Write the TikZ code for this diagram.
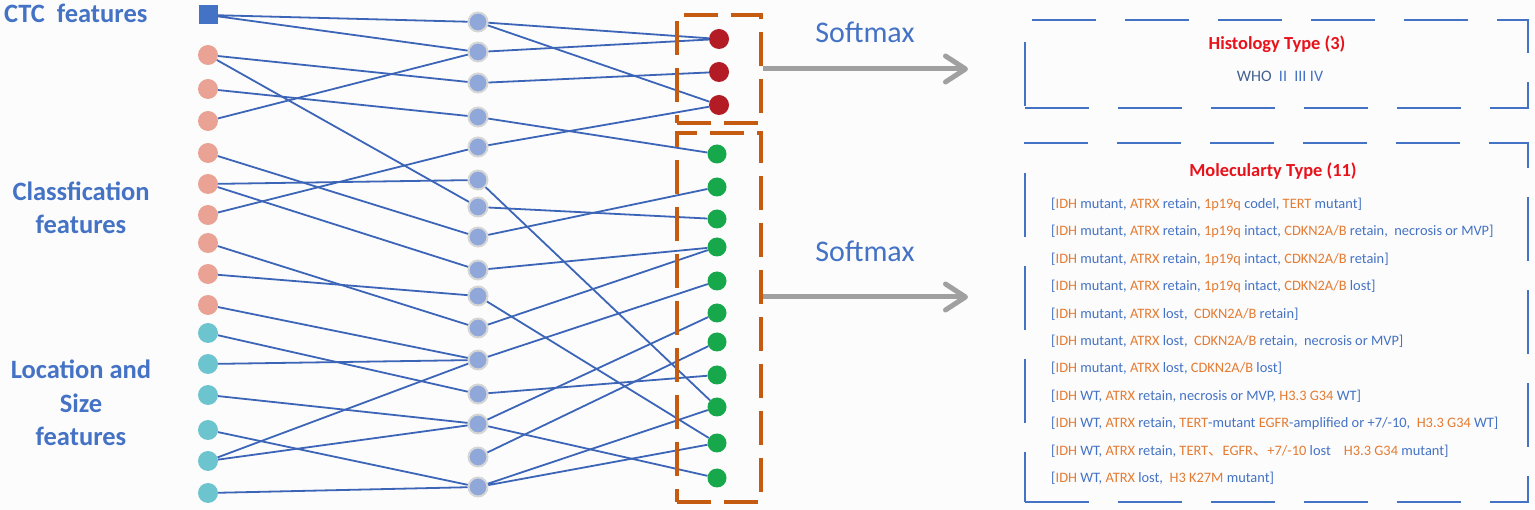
\documentclass[tikz,border=0pt]{standalone}
\usepackage{fontspec}
\setmainfont{Carlito}
\newfontfamily\cjk{Noto Sans CJK SC}
\usepackage{tikz}
\usetikzlibrary{arrows.meta,positioning}

\definecolor{bg}{HTML}{FCFCFC}
\definecolor{lineblue}{HTML}{3C65B8}
\definecolor{txtblue}{HTML}{4472C4}
\definecolor{whoblue}{HTML}{44618F}
\definecolor{salmon}{HTML}{E9A293}
\definecolor{cyanpt}{HTML}{6CC4CF}
\definecolor{hidblue}{HTML}{8FA8D9}
\definecolor{ringgray}{HTML}{D6D6D6}
\definecolor{outred}{HTML}{B31B25}
\definecolor{outgreen}{HTML}{18A84C}
\definecolor{boxorange}{HTML}{C55A11}
\definecolor{txtorange}{HTML}{E47B32}
\definecolor{titlered}{HTML}{E8121B}
\definecolor{arrowgray}{HTML}{A0A0A0}

\newcommand\orng[1]{\textcolor{txtorange}{#1}}

\begin{document}
\begin{tikzpicture}[
  x=1pt, y=-1pt,
  dot/.style={circle, inner sep=0pt, minimum size=20pt},
  ctcnode/.style={rectangle, inner sep=0pt, minimum size=19pt, fill=txtblue},
  clsnode/.style={dot, fill=salmon},
  locnode/.style={dot, fill=cyanpt},
  hidnode/.style={dot, minimum size=19pt, fill=hidblue, draw=ringgray, line width=2pt},
  histnode/.style={dot, fill=outred},
  molnode/.style={dot, minimum size=19pt, fill=outgreen},
  link/.style={draw=lineblue, line width=1.8pt},
  obox/.style={rectangle, draw=boxorange, line width=3.5pt, dash pattern=on 34pt off 13pt,
               minimum width=84pt, inner sep=0pt},
  tbox/.style={rectangle, draw=txtblue, line width=2.5pt, dash pattern=on 64pt off 29pt,
               minimum width=503pt, inner sep=0pt},
  softarrow/.style={draw=arrowgray, line width=5pt,
                    -{Straight Barb[length=20pt, width=26pt, round]}},
  flabel/.style={text=txtblue, align=center, font=\bfseries\fontsize{26.5}{33.5}\selectfont},
  smx/.style={text=txtblue, font=\fontsize{30}{36}\selectfont},
  ttl/.style={text=titlered, font=\bfseries\fontsize{18.4}{22}\selectfont},
  itm/.style={text=txtblue, inner sep=0pt, font=\fontsize{14.4}{17}\selectfont}
]

\useasboundingbox (0,0) rectangle (1535,510);
\fill[bg] (0,0) rectangle (1535,510);

% feature labels
\node[flabel, anchor=base west, inner sep=0pt] (ctcl) at (4,23) {CTC\ \ features};
\node[flabel] (clsl) at (81,208) {Classfication\\features};
\node[flabel] (locl) at (81,403) {Location and\\Size\\features};

% input, hidden and output layers
\node[ctcnode] (s) at (208,15) {};
\foreach \y [count=\i] in {55,89,121,153,184,215,243,274,305}
  \node[clsnode] (p\i) at (208,\y) {};
\foreach \y [count=\i] in {333,364,395,430,461,493}
  \node[locnode] (c\i) at (208,\y) {};
\foreach \y [count=\i] in {22,52,83,117,147,180,207,237,270,296,328,360,394,424,457,487}
  \node[hidnode] (m\i) at (478,\y) {};
\foreach \y [count=\i] in {39,72,105}
  \node[histnode] (r\i) at (719,\y) {};
\foreach \y [count=\i] in {154,187,219,247,281,313,342,375,407,443,478}
  \node[molnode] (g\i) at (717,\y) {};

% input -> hidden
\draw[link] (s) -- (m1) (s) -- (m2);
\draw[link] (p1) -- (m3) (p1) -- (m7);
\draw[link] (p2) -- (m4);
\draw[link] (p3) -- (m2);
\draw[link] (p4) -- (m8);
\draw[link] (p5) -- (m6) (p5) -- (m9);
\draw[link] (p6) -- (m5);
\draw[link] (p7) -- (m11);
\draw[link] (p8) -- (m10);
\draw[link] (p9) -- (m12);
\draw[link] (c1) -- (m13);
\draw[link] (c2) -- (m12);
\draw[link] (c3) -- (m14);
\draw[link] (c4) -- (m16);
\draw[link] (c5) -- (m12) (c5) -- (m14);
\draw[link] (c6) -- (m16);

% hidden -> output
\draw[link] (m1) -- (r1) (m1) -- (r3);
\draw[link] (m2) -- (r1);
\draw[link] (m3) -- (r2);
\draw[link] (m4) -- (g1);
\draw[link] (m5) -- (r3);
\draw[link] (m6) -- (g9);
\draw[link] (m7) -- (g3);
\draw[link] (m8) -- (g2);
\draw[link] (m9) -- (g4);
\draw[link] (m10) -- (g10);
\draw[link] (m11) -- (g4);
\draw[link] (m12) -- (g5);
\draw[link] (m13) -- (g8);
\draw[link] (m14) -- (g6) (m14) -- (g11);
\draw[link] (m15) -- (g7);
\draw[link] (m16) -- (g9) (m16) -- (g10);

% output groups
\node[obox, minimum height=108pt] (obox1) at (719,69) {};
\node[obox, minimum height=369pt] (obox2) at (719,317.5) {};

% softmax arrows
\coordinate (h1) at (968,69);
\coordinate (h2) at (968,297);
\draw[softarrow] (obox1.east |- h1) -- (h1);
\draw[softarrow] (obox2.east |- h2) -- (h2);
\node[smx, anchor=base] (sm1) at (865,43) {Softmax};
\node[smx, anchor=base] (sm2) at (865,262) {Softmax};

% result boxes
\node[tbox, minimum height=88pt] (hbox) at (1276.5,64) {};
\node[tbox, minimum height=359pt] (mbox) at (1276.5,322.5) {};

\node[ttl, anchor=base] (htitle) at (1277,50) {Histology Type (3)};
\node[itm, anchor=base, font=\fontsize{16}{19}\selectfont] (who) at (1280,82)
  {\textcolor{whoblue}{WHO}\ \ II\ \ III IV};

\node[ttl, anchor=base] (mtitle) at (1273,177) {Molecularty Type (11)};
\node[itm, anchor=base west] (l1) at (1051,209)
  {[\orng{IDH} mutant, \orng{ATRX} retain, \orng{1p19q} codel, \orng{TERT} mutant]};
\node[itm, anchor=base west] (l2) at (1051,236)
  {[\orng{IDH} mutant, \orng{ATRX} retain, \orng{1p19q} intact, \orng{CDKN2A/B} retain,\ \ necrosis or MVP]};
\node[itm, anchor=base west] (l3) at (1051,264)
  {[\orng{IDH} mutant, \orng{ATRX} retain, \orng{1p19q} intact, \orng{CDKN2A/B} retain]};
\node[itm, anchor=base west] (l4) at (1051,291)
  {[\orng{IDH} mutant, \orng{ATRX} retain, \orng{1p19q} intact, \orng{CDKN2A/B} lost]};
\node[itm, anchor=base west] (l5) at (1051,319)
  {[\orng{IDH} mutant, \orng{ATRX} lost,\ \ \orng{CDKN2A/B} retain]};
\node[itm, anchor=base west] (l6) at (1051,346)
  {[\orng{IDH} mutant, \orng{ATRX} lost,\ \ \orng{CDKN2A/B} retain,\ \ necrosis or MVP]};
\node[itm, anchor=base west] (l7) at (1051,373)
  {[\orng{IDH} mutant, \orng{ATRX} lost, \orng{CDKN2A/B} lost]};
\node[itm, anchor=base west] (l8) at (1051,401)
  {[\orng{IDH} WT, \orng{ATRX} retain, necrosis or MVP, \orng{H3.3 G34} WT]};
\node[itm, anchor=base west] (l9) at (1051,428)
  {[\orng{IDH} WT, \orng{ATRX} retain, \orng{TERT}-mutant \orng{EGFR}-amplified or +7/-10,\ \ \orng{H3.3 G34} WT]};
\node[itm, anchor=base west] (l10) at (1051,456)
  {[\orng{IDH} WT, \orng{ATRX} retain, \orng{TERT{\cjk 、}EGFR{\cjk 、}+7/-10} lost\ \ \ \ \orng{H3.3 G34} mutant]};
\node[itm, anchor=base west] (l11) at (1051,483)
  {[\orng{IDH} WT, \orng{ATRX} lost,\ \ \orng{H3 K27M} mutant]};

\end{tikzpicture}
\end{document}
